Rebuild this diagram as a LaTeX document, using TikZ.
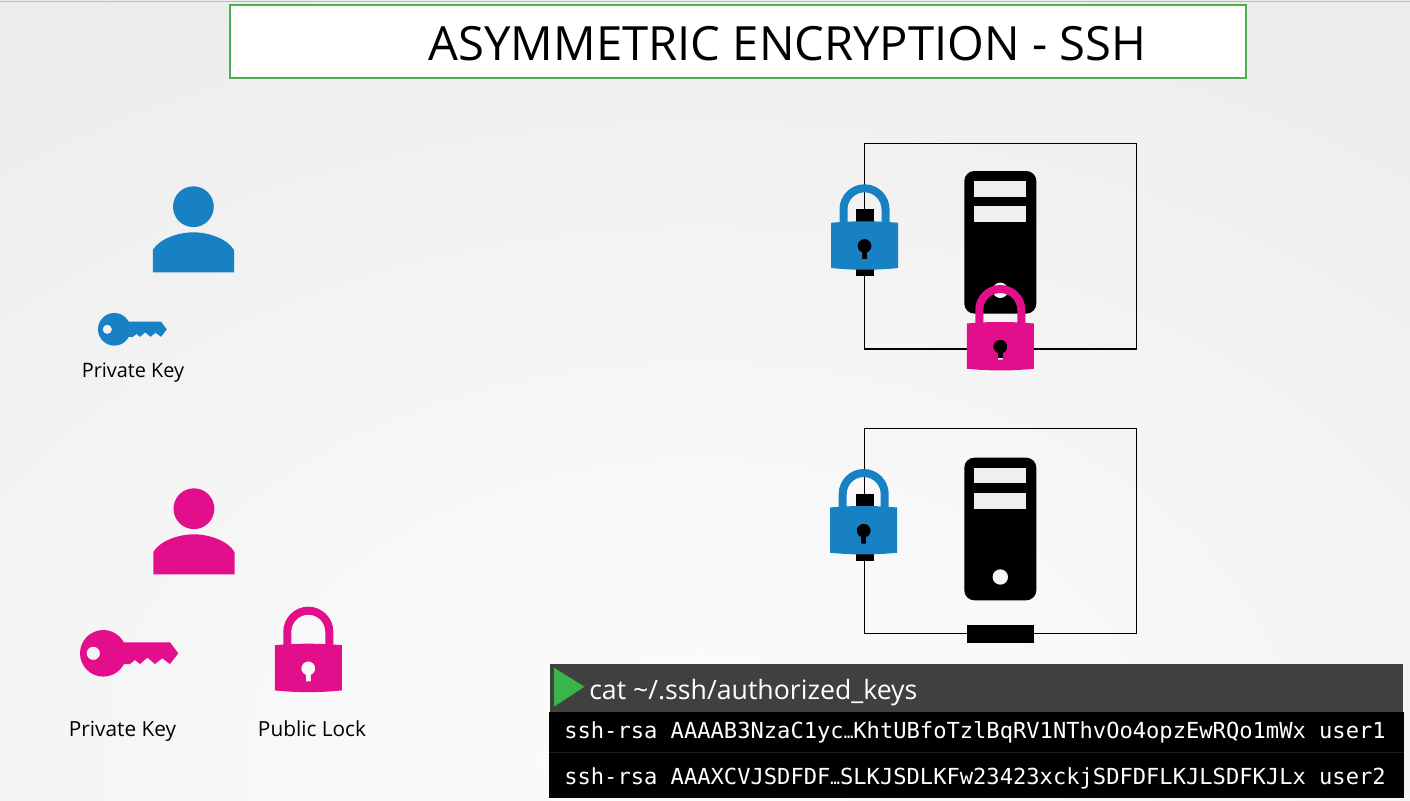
\documentclass[tikz,border=0pt]{standalone}
\usepackage{fontspec}
\setmainfont{Open Sans}
\newfontfamily\termmono{DejaVu Sans Mono}
\definecolor{keyblue}{HTML}{1781C4}
\definecolor{keypink}{HTML}{E20E8C}
\definecolor{titlegreen}{HTML}{4CB050}
\definecolor{promptgreen}{HTML}{39B54A}
\definecolor{termhead}{HTML}{404040}
\definecolor{termline}{HTML}{1E1E1E}
\definecolor{bayfill}{HTML}{EFEFEF}
\definecolor{ledfill}{HTML}{F5F5F5}
\definecolor{topline}{HTML}{BBBBBB}
\definecolor{bgA}{HTML}{FCFCFC}
\definecolor{bgB}{HTML}{F8F8F8}
\definecolor{bgC}{HTML}{F2F2F2}
\definecolor{bgD}{HTML}{EBEBEB}
\definecolor{bgE}{HTML}{EAEAEA}
\pgfdeclareradialshading{slidebg}{\pgfpoint{0bp}{0bp}}{color(0bp)=(bgA); color(7bp)=(bgB); color(14bp)=(bgC); color(23.3bp)=(bgD); color(35.4bp)=(bgE); color(50bp)=(bgE)}
\tikzset{
  boxline/.style={draw=black,line width=1pt},
  labeltext/.style={font=\fontsize{15.6}{18}\selectfont,text=black,inner sep=0pt},
  monotext/.style={font=\termmono\fontsize{16.58}{20}\selectfont,text=white,anchor=west,inner sep=0pt},
}
\newcommand{\lockicon}[3]{% x, top y, colour
  \begin{scope}[shift={(#1,#2)}]
    \draw[#3,line width=6pt] (-21,40) -- (-21,25) arc (180:360:21) -- (21,40);
    \fill[#3,even odd rule] (-33.5,38.5) .. controls (-12,36.5) and (12,36.5) .. (33.5,38.5) -- (33.5,83.7) .. controls (12,86) and (-12,86) .. (-33.5,83.7) -- cycle
      (2.5,68.24) arc (69.1:-249.1:7) -- (-2.5,74.7) -- (2.5,74.7) -- cycle;
  \end{scope}}
\newcommand{\servericon}[1]{% top y
  \begin{scope}[shift={(1000.3,#1)}]
    \fill[black,rounded corners=7.5pt] (-36,0) rectangle (36,142.6);
    \fill[bayfill] (-26,10) rectangle (26,25.6);
    \fill[bayfill] (-26,35.3) rectangle (26,51);
    \fill[ledfill] (0,119.3) circle [radius=7.7];
  \end{scope}}
\newcommand{\personicon}[3]{% x, y of head, colour
  \begin{scope}[shift={(#1,#2)}]
    \fill[#3] (0,0) circle [radius=20.4];
    \fill[#3] (-40.6,65.6) -- (-40.6,43.3) .. controls (-34,32) and (-15,25.6) .. (0,25.6) .. controls (15,25.6) and (34,32) .. (40.6,43.3) -- (40.6,65.6) -- cycle;
  \end{scope}}
\newcommand{\keyicon}[4]{% x, y, scale, colour
  \begin{scope}[shift={(#1,#2)},scale=#3]
    \fill[#4,even odd rule] (0,0) circle [radius=23.3] (-10,0) circle [radius=6.7];
    \fill[#4] (18,-11) -- (66.7,-11) -- (75,0) -- (66.7,10.7) -- (59,5) -- (51.7,10.7) -- (44,4.3) -- (36.7,10.7) -- (31.7,6.7) -- (26.7,10.7) -- (18,10.7) -- cycle;
  \end{scope}}
\begin{document}
\begin{tikzpicture}[x=0.75pt,y=-0.75pt]
\useasboundingbox (0,0) rectangle (1410,800);
% background
\begin{scope}
  \clip (0,0) rectangle (1410,800);
  \fill[shading=slidebg] (700,760) ellipse [x radius=1500,y radius=1000];
\end{scope}
\draw[topline,line width=0.75pt] (0,1) -- (1410,1);
% title
\node[draw=titlegreen,line width=1.5pt,fill=white,minimum width=762pt,minimum height=54.75pt,inner sep=0pt] (titlebox) at (738,41.5) {};
\node[font=\fontsize{35.4}{42}\selectfont,text=black,inner sep=0pt] (title) at (787.5,43.5) {ASYMMETRIC ENCRYPTION - SSH};
% server boxes
\draw[boxline] (864.4,143.3) rectangle (1136.7,349);
\draw[boxline] (864.4,428.3) rectangle (1136.7,633.7);
% slots
\fill[black] (855.5,209) rectangle (873.5,276);
\fill[black] (855.5,494) rectangle (873.5,560.7);
\fill[black] (967,340.3) rectangle (1034,358.3);
\fill[black] (967,625) rectangle (1034,643);
% servers
\servericon{171}
\servericon{457.7}
% locks
\lockicon{864.5}{184.3}{keyblue}
\lockicon{1000.3}{285}{keypink}
\lockicon{863.7}{469}{keyblue}
\lockicon{308.3}{606.7}{keypink}
% people and keys
\personicon{193.4}{206.7}{keyblue}
\personicon{193.9}{508.7}{keypink}
\keyicon{114.3}{329.3}{0.7}{keyblue}
\keyicon{103.3}{653.3}{1}{keypink}
\node[labeltext,font=\fontsize{14.9}{18}\selectfont] (lblA) at (133,373) {Private Key};
\node[labeltext] (lblB) at (122.5,731) {Private Key};
\node[labeltext] (lblC) at (312,729) {Public Lock};
% terminal
\fill[black] (549,712) rectangle (1404,798);
\fill[termhead] (550,664) rectangle (1403,712);
\draw[termline,line width=0.75pt] (549,752) -- (1404,752);
\fill[promptgreen] (554,667.7) -- (584.4,686.7) -- (554,706.7) -- cycle;
\node[font=\fontsize{20}{24}\selectfont,text=white,anchor=west,inner sep=0pt] (cmd) at (589,693) {cat \textasciitilde/.ssh/authorized\_keys};
\node[monotext] (row1) at (564,732) {ssh-rsa AAAAB3NzaC1yc{\fontsize{12}{12}\selectfont …}KhtUBfoTzlBqRV1NThvOo4opzEwRQo1mWx user1};
\node[monotext] (row2) at (564,778) {ssh-rsa AAAXCVJSDFDF{\fontsize{12}{12}\selectfont …}SLKJSDLKFw23423xckjSDFDFLKJLSDFKJLx user2};
\end{tikzpicture}
\end{document}
